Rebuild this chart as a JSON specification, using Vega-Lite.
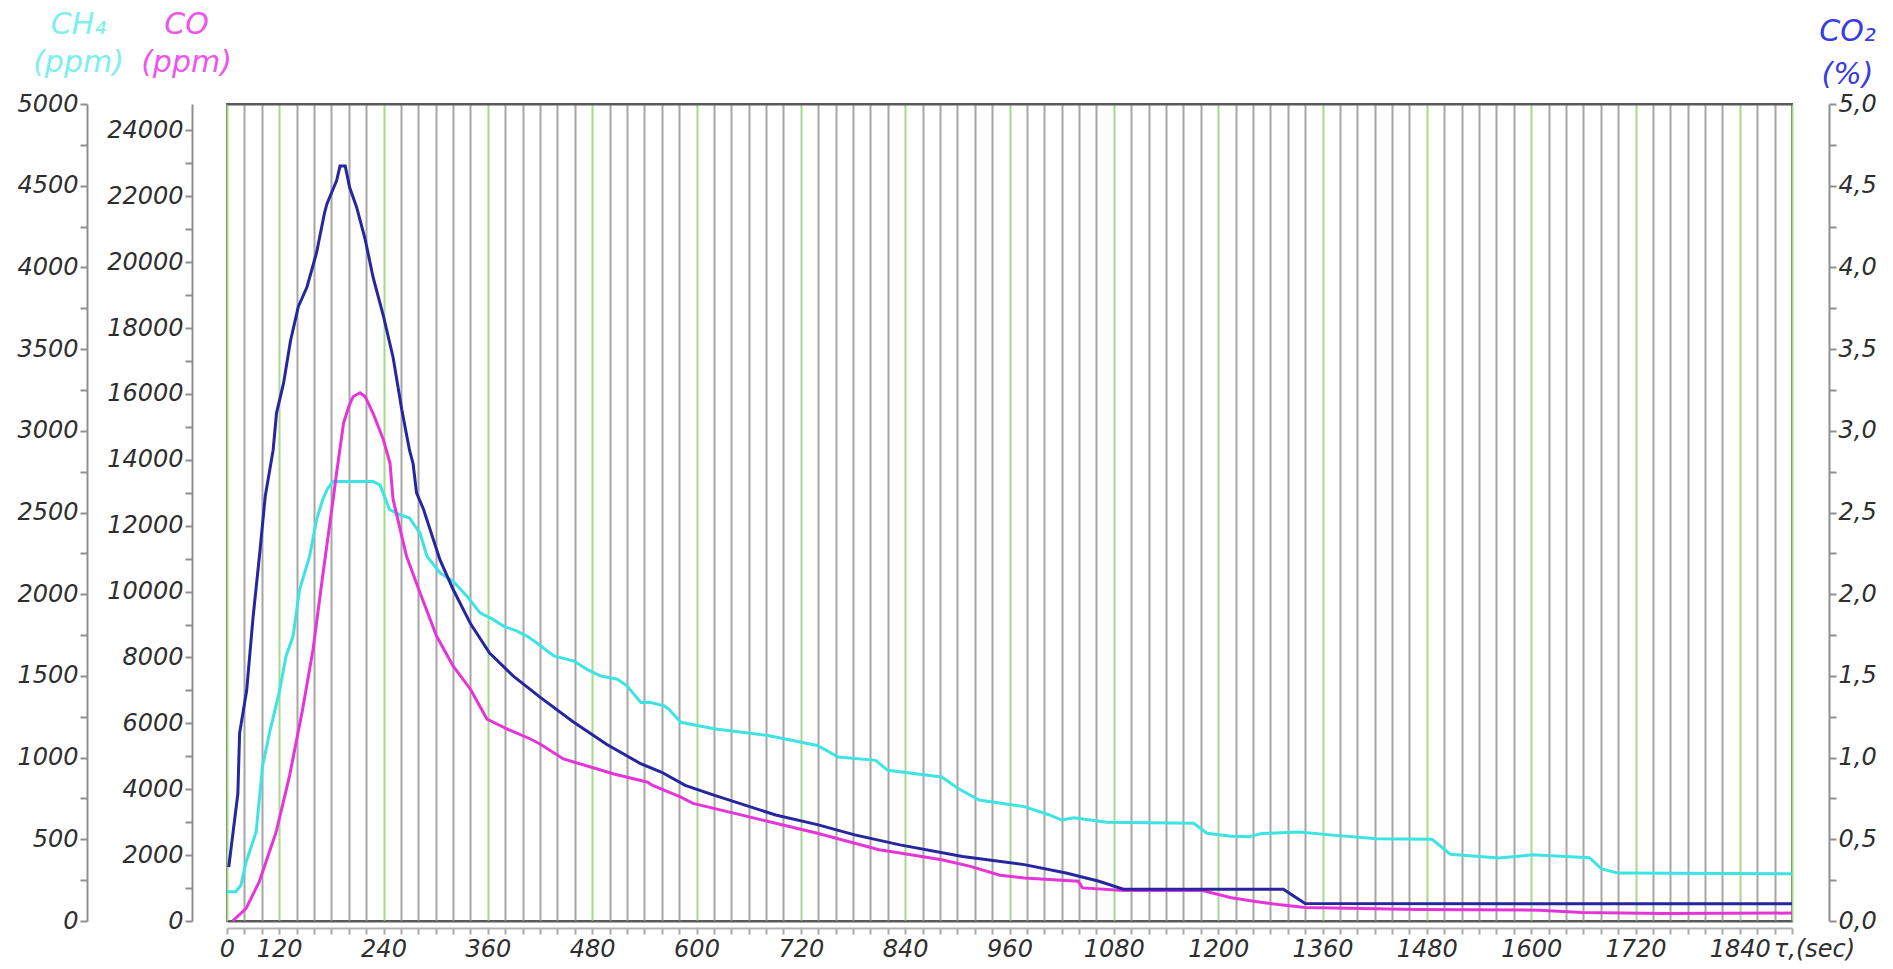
{
  "$schema": "https://vega.github.io/schema/vega-lite/v6.json",
  "width": 1565,
  "height": 817,
  "autosize": "none",
  "padding": {"left": 227, "top": 104, "right": 101, "bottom": 48},
  "background": "white",
  "view": {"stroke": "#5a5a5a", "strokeWidth": 2},
  "config": {
    "axis": {
      "labelFont": "DejaVu Sans",
      "labelFontStyle": "italic",
      "labelFontSize": 24,
      "labelColor": "#2e2e2e",
      "titleFont": "DejaVu Sans",
      "titleFontStyle": "italic",
      "titleFontWeight": "normal",
      "titleFontSize": 30,
      "domainColor": "#8f8f8f",
      "domainWidth": 2,
      "tickColor": "#8f8f8f",
      "tickWidth": 2,
      "labelOverlap": false,
      "labelFlush": false,
      "labelBound": false
    }
  },
  "datasets": {
    "ch4": [
      {"t": 0, "v": 179}, {"t": 10, "v": 179}, {"t": 16, "v": 219}, {"t": 22, "v": 361}, {"t": 33.5, "v": 545},
      {"t": 41, "v": 951}, {"t": 49, "v": 1154}, {"t": 60, "v": 1398}, {"t": 68, "v": 1622}, {"t": 76, "v": 1744},
      {"t": 83.5, "v": 2029}, {"t": 95, "v": 2232}, {"t": 103, "v": 2455}, {"t": 110, "v": 2578}, {"t": 116, "v": 2650},
      {"t": 122, "v": 2689}, {"t": 168, "v": 2689}, {"t": 176, "v": 2669}, {"t": 187, "v": 2517}, {"t": 199, "v": 2486},
      {"t": 210, "v": 2466}, {"t": 218, "v": 2405}, {"t": 222, "v": 2375}, {"t": 230, "v": 2232}, {"t": 245, "v": 2130},
      {"t": 260, "v": 2080}, {"t": 276, "v": 1988}, {"t": 291, "v": 1886}, {"t": 306, "v": 1846}, {"t": 318, "v": 1805},
      {"t": 333, "v": 1775}, {"t": 345, "v": 1744}, {"t": 356, "v": 1703}, {"t": 376, "v": 1622}, {"t": 399, "v": 1591},
      {"t": 414, "v": 1540}, {"t": 430, "v": 1499}, {"t": 449, "v": 1480}, {"t": 460, "v": 1439}, {"t": 476, "v": 1337},
      {"t": 487, "v": 1337}, {"t": 503, "v": 1317}, {"t": 508, "v": 1297}, {"t": 522, "v": 1216}, {"t": 560, "v": 1176},
      {"t": 622, "v": 1135}, {"t": 679, "v": 1074}, {"t": 703, "v": 1004}, {"t": 746, "v": 983}, {"t": 760, "v": 922},
      {"t": 822, "v": 881}, {"t": 841, "v": 811}, {"t": 865, "v": 740}, {"t": 917, "v": 700}, {"t": 946, "v": 649},
      {"t": 960, "v": 618}, {"t": 974, "v": 632}, {"t": 1012, "v": 604}, {"t": 1112, "v": 598}, {"t": 1127, "v": 537},
      {"t": 1155, "v": 518}, {"t": 1175, "v": 515}, {"t": 1190, "v": 535}, {"t": 1233, "v": 545}, {"t": 1275, "v": 524},
      {"t": 1322, "v": 504}, {"t": 1386, "v": 500}, {"t": 1407, "v": 409}, {"t": 1463, "v": 385}, {"t": 1501, "v": 405},
      {"t": 1567, "v": 387}, {"t": 1581, "v": 319}, {"t": 1600, "v": 293}, {"t": 1800, "v": 289}
    ],
    "co": [
      {"t": 6.5, "v": 0}, {"t": 22, "v": 382}, {"t": 37, "v": 1186}, {"t": 56.5, "v": 2702}, {"t": 72, "v": 4414},
      {"t": 87, "v": 6432}, {"t": 99, "v": 8248}, {"t": 110, "v": 10466}, {"t": 122, "v": 12785}, {"t": 126, "v": 13590},
      {"t": 134, "v": 15108}, {"t": 140, "v": 15612}, {"t": 145, "v": 15915}, {"t": 153, "v": 16036}, {"t": 159, "v": 15915},
      {"t": 168, "v": 15411}, {"t": 180, "v": 14600}, {"t": 187.5, "v": 13893}, {"t": 191, "v": 12800}, {"t": 206.5, "v": 11071},
      {"t": 222, "v": 9963}, {"t": 241, "v": 8651}, {"t": 260, "v": 7740}, {"t": 280, "v": 7036}, {"t": 299, "v": 6131},
      {"t": 322, "v": 5828}, {"t": 349, "v": 5525}, {"t": 360, "v": 5373}, {"t": 387, "v": 4918}, {"t": 426, "v": 4614},
      {"t": 445, "v": 4464}, {"t": 484, "v": 4214}, {"t": 489, "v": 4122}, {"t": 522, "v": 3761}, {"t": 536, "v": 3570},
      {"t": 584, "v": 3266}, {"t": 631, "v": 2966}, {"t": 679, "v": 2665}, {"t": 750, "v": 2162}, {"t": 774, "v": 2061},
      {"t": 822, "v": 1861}, {"t": 855, "v": 1657}, {"t": 889, "v": 1387}, {"t": 917, "v": 1305}, {"t": 979, "v": 1205},
      {"t": 984, "v": 1005}, {"t": 1031, "v": 926}, {"t": 1122, "v": 926}, {"t": 1155, "v": 704}, {"t": 1181, "v": 601},
      {"t": 1209, "v": 500}, {"t": 1240, "v": 409}, {"t": 1369, "v": 349}, {"t": 1510, "v": 330}, {"t": 1558, "v": 261},
      {"t": 1652, "v": 231}, {"t": 1800, "v": 240}
    ],
    "co2": [
      {"t": 2, "v": 0.33}, {"t": 12.5, "v": 0.78}, {"t": 14.5, "v": 1.15}, {"t": 22.6, "v": 1.41}, {"t": 30, "v": 1.86},
      {"t": 38, "v": 2.27}, {"t": 44, "v": 2.6}, {"t": 53, "v": 2.88}, {"t": 57, "v": 3.11}, {"t": 65, "v": 3.29},
      {"t": 73, "v": 3.55}, {"t": 82, "v": 3.76}, {"t": 92, "v": 3.88}, {"t": 103, "v": 4.09}, {"t": 112, "v": 4.33},
      {"t": 115, "v": 4.39}, {"t": 126, "v": 4.53}, {"t": 130, "v": 4.62}, {"t": 136, "v": 4.62}, {"t": 141, "v": 4.49},
      {"t": 149, "v": 4.37}, {"t": 159, "v": 4.17}, {"t": 168, "v": 3.94}, {"t": 180, "v": 3.7}, {"t": 191, "v": 3.45},
      {"t": 201, "v": 3.13}, {"t": 210, "v": 2.88}, {"t": 214, "v": 2.8}, {"t": 218, "v": 2.62}, {"t": 226, "v": 2.52},
      {"t": 245, "v": 2.21}, {"t": 260, "v": 2.03}, {"t": 280, "v": 1.82}, {"t": 302, "v": 1.64}, {"t": 329, "v": 1.5},
      {"t": 360, "v": 1.37}, {"t": 398, "v": 1.22}, {"t": 437, "v": 1.08}, {"t": 475, "v": 0.965}, {"t": 500, "v": 0.91},
      {"t": 527, "v": 0.83}, {"t": 560, "v": 0.77}, {"t": 631, "v": 0.649}, {"t": 679, "v": 0.59}, {"t": 722, "v": 0.527},
      {"t": 774, "v": 0.466}, {"t": 846, "v": 0.395}, {"t": 917, "v": 0.345}, {"t": 965, "v": 0.294}, {"t": 1003, "v": 0.243},
      {"t": 1031, "v": 0.195}, {"t": 1215, "v": 0.195}, {"t": 1240, "v": 0.107}, {"t": 1800, "v": 0.105}
    ]
  },
  "layer": [
    {
      "data": {"name": "ch4"},
      "mark": {"type": "line", "color": "#3ee3e3", "strokeWidth": 3},
      "encoding": {
        "x": {
          "field": "t", "type": "quantitative",
          "scale": {"domain": [0, 1800], "nice": false, "zero": false},
          "axis": {
            "orient": "bottom",
            "values": [0,20,40,60,80,100,120,140,160,180,200,220,240,260,280,300,320,340,360,380,400,420,440,460,480,500,520,540,560,580,600,620,640,660,680,700,720,740,760,780,800,820,840,860,880,900,920,940,960,980,1000,1020,1040,1060,1080,1100,1120,1140,1160,1180,1200,1220,1240,1260,1280,1300,1320,1340,1360,1380,1400,1420,1440,1460,1480,1500,1520,1540,1560,1580,1600,1620,1640,1660,1680,1700,1720,1740,1760,1780,1800],
            "grid": true,
            "gridWidth": 2,
            "gridColor": {"condition": {"test": "datum.value == 0 || datum.value == 1800 || datum.value % 120 == 60", "value": "#a5da8c"}, "value": "#a6a6a6"},
            "offset": 7,
            "domainColor": "#b4b4b4",
            "tickColor": "#a8a8a8",
            "tickSize": 6,
            "labelPadding": 3,
            "labelExpr": "datum.value == 0 ? '0' : (datum.value % 120 == 60 && datum.value < 1800 ? (datum.value <= 1140 ? '' + (datum.value + 60) : '' + (datum.value + 100)) : '')",
            "title": "τ,(sec)",
            "titleFont": "DejaVu Sans",
            "titleFontSize": 24,
            "titleColor": "#2e2e2e",
            "titleX": 1587,
            "titleY": 9,
            "titleAlign": "center",
            "titleBaseline": "top"
          }
        },
        "y": {
          "field": "v", "type": "quantitative",
          "scale": {"domain": [0, 5000], "nice": false},
          "axis": {
            "orient": "left",
            "offset": 140,
            "grid": false,
            "values": [0,250,500,750,1000,1250,1500,1750,2000,2250,2500,2750,3000,3250,3500,3750,4000,4250,4500,4750,5000],
            "labelExpr": "datum.value % 500 == 0 ? format(datum.value, 'd') : ''",
            "tickSize": 7,
            "labelPadding": 2,
            "title": ["CH₄", "(ppm)"],
            "titleColor": "#7eeeee",
            "titleAngle": 0,
            "titleAlign": "center",
            "titleBaseline": "top",
            "titleX": -9,
            "titleY": -95,
            "titleLineHeight": 38
          }
        }
      }
    },
    {
      "data": {"name": "co"},
      "mark": {"type": "line", "color": "#e535d9", "strokeWidth": 3},
      "encoding": {
        "x": {
          "field": "t", "type": "quantitative",
          "axis": {"orient": "top", "grid": false, "ticks": false, "labels": false, "domainColor": "#5a5a5a", "title": null}
        },
        "y": {
          "field": "v", "type": "quantitative",
          "scale": {"domain": [0, 24800], "nice": false},
          "axis": {
            "orient": "left",
            "offset": 35,
            "grid": false,
            "values": [0,1000,2000,3000,4000,5000,6000,7000,8000,9000,10000,11000,12000,13000,14000,15000,16000,17000,18000,19000,20000,21000,22000,23000,24000],
            "labelExpr": "datum.value % 2000 == 0 ? format(datum.value, 'd') : ''",
            "tickSize": 7,
            "labelPadding": 2,
            "title": ["CO", "(ppm)"],
            "titleColor": "#ee55ee",
            "titleAngle": 0,
            "titleAlign": "center",
            "titleBaseline": "top",
            "titleX": -6,
            "titleY": -95,
            "titleLineHeight": 38
          }
        }
      }
    },
    {
      "data": {"name": "co2"},
      "mark": {"type": "line", "color": "#26269e", "strokeWidth": 3},
      "encoding": {
        "x": {
          "field": "t", "type": "quantitative",
          "axis": {"orient": "bottom", "grid": false, "ticks": false, "labels": false, "domainColor": "#5a5a5a", "title": null}
        },
        "y": {
          "field": "v", "type": "quantitative",
          "scale": {"domain": [0, 5], "nice": false},
          "axis": {
            "orient": "right",
            "offset": 37,
            "grid": false,
            "values": [0,0.25,0.5,0.75,1,1.25,1.5,1.75,2,2.25,2.5,2.75,3,3.25,3.5,3.75,4,4.25,4.5,4.75,5],
            "labelExpr": "datum.value % 0.5 == 0 ? replace(format(datum.value, '.1f'), '.', ',') : ''",
            "tickSize": 7,
            "labelPadding": 2,
            "title": ["CO₂", "(%)"],
            "titleColor": "#3b3bdf",
            "titleAngle": 0,
            "titleAlign": "center",
            "titleBaseline": "top",
            "titleX": 18,
            "titleY": -88,
            "titleLineHeight": 43
          }
        }
      }
    }
  ],
  "resolve": {"scale": {"y": "independent"}, "axis": {"x": "independent", "y": "independent"}}
}
